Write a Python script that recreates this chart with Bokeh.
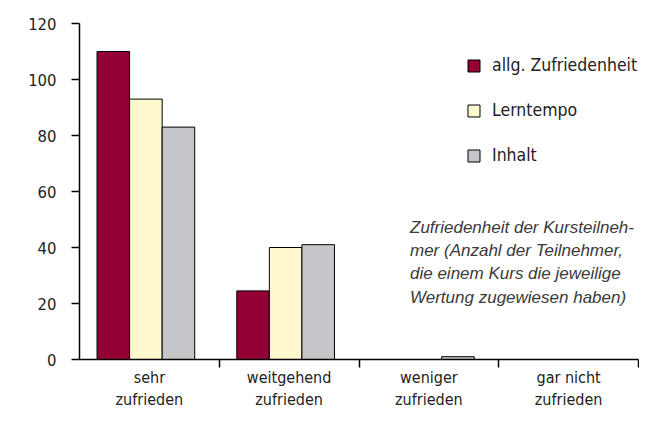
from bokeh.plotting import figure
from bokeh.models import FixedTicker, Legend, LegendItem, Label, ColumnDataSource
from bokeh.embed import file_html
from bokeh.resources import INLINE

categories = ["sehr\nzufrieden", "weitgehend\nzufrieden", "weniger\nzufrieden", "gar nicht\nzufrieden"]
series_names = ["allg. Zufriedenheit", "Lerntempo", "Inhalt"]
allg = [110, 24.5, 0, 0]
lerntempo = [93, 40, 0, 0]
inhalt = [83, 41, 1, 0]
y_ticks = [0, 20, 40, 60, 80, 100, 120]
note_lines = ["Zufriedenheit der Kursteilneh-", "mer (Anzahl der Teilnehmer,",
              "die einem Kurs die jeweilige", "Wertung zugewiesen haben)"]

colors = ["#930036", "#FFF8CF", "#C4C6C9"]
FONT = "DejaVu Sans Condensed"

p = figure(width=639, height=412, x_range=(0, 4), y_range=(0, 120),
           output_backend="svg", toolbar_location=None,
           min_border_left=79, min_border_right=1, min_border_top=23, min_border_bottom=50)
p.outline_line_color = None
p.grid.grid_line_color = None
p.background_fill_color = "white"

bar_w = 0.233
offsets = [-bar_w, 0, bar_w]
renderers = []
for vals, off, col in zip([allg, lerntempo, inhalt], offsets, colors):
    src = ColumnDataSource(dict(x=[i + 0.5 + off - 0.025 for i in range(len(categories))], top=vals))
    r = p.vbar(x="x", top="top", width=bar_w, bottom=0, source=src,
               fill_color=col, line_color="black", line_width=1)
    renderers.append(r)

# axes
xa = p.xaxis[0]
xa.ticker = FixedTicker(ticks=[i + 0.5 for i in range(len(categories))],
                        minor_ticks=[1, 2, 3, 4])
xa.major_label_overrides = {i + 0.5: c for i, c in enumerate(categories)}
xa.major_tick_line_color = None
xa.major_tick_out = 8
xa.major_tick_in = 0
xa.minor_tick_out = 8
xa.minor_tick_in = 0
xa.minor_tick_line_color = "black"
xa.minor_tick_line_width = 1.5
xa.axis_line_width = 1.5
xa.major_label_text_font = FONT
xa.major_label_text_font_size = "16px"
xa.major_label_text_line_height = 1.2
xa.major_label_text_color = "#222222"
xa.major_label_standoff = 0

ya = p.yaxis[0]
ya.ticker = FixedTicker(ticks=y_ticks)
ya.minor_tick_line_color = None
ya.major_tick_out = 8
ya.major_tick_in = 0
ya.major_tick_line_width = 1.5
ya.axis_line_width = 1.5
ya.major_label_text_font = FONT
ya.major_label_text_font_size = "16.5px"
ya.major_label_text_color = "#222222"
ya.major_label_standoff = 15

legend = Legend(items=[LegendItem(label=n, renderers=[r]) for n, r in zip(series_names, renderers)],
                location=(387, 194), orientation="vertical")
legend.border_line_color = None
legend.background_fill_alpha = 0
legend.padding = 0
legend.margin = 0
legend.spacing = 25
legend.glyph_height = 15
legend.glyph_width = 15
legend.label_height = 18
legend.label_standoff = 11
legend.label_text_font = FONT
legend.label_text_font_size = "17.5px"
legend.label_text_color = "#222222"
p.add_layout(legend, "center")

for k, line in enumerate(note_lines):
    p.add_layout(Label(x=2.365, y=47.2 - k * 8.3,
                       text=line, text_font="Liberation Sans", text_font_style="italic",
                       text_font_size="17px", text_color="#3a3a3a", text_baseline="middle"))

open("out.html", "w").write(file_html(p, INLINE))
